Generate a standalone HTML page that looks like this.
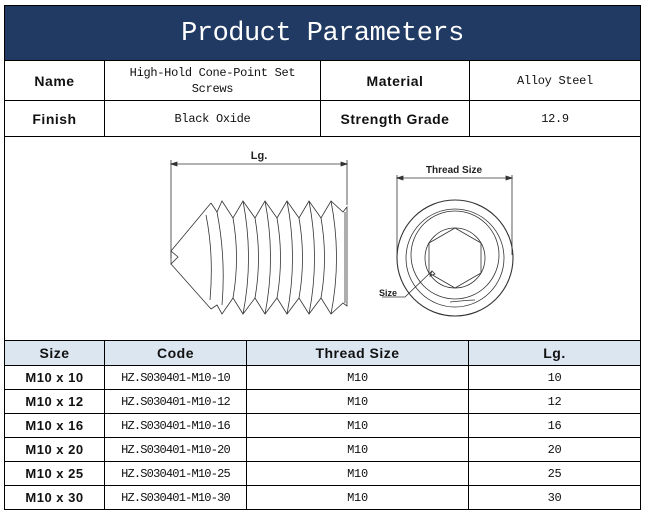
<!DOCTYPE html>
<html><head><meta charset="utf-8"><style>
body{margin:0;background:#fff;width:647px;height:514px;position:relative;overflow:hidden;font-family:"Liberation Mono","Noto Sans CJK SC",monospace;}
.a{position:absolute;box-sizing:border-box;}
table{border-collapse:collapse;position:absolute;left:4px;}
td{border:1px solid #000;text-align:center;padding:0;font-size:12px;color:#111;letter-spacing:-0.3px;}
.b{font-family:"Liberation Sans",sans-serif;font-weight:bold;font-size:14px;letter-spacing:0.5px;}
</style></head><body>
<div class="a" style="left:4px;top:5px;width:637px;height:56px;background:#213A63;border:1px solid #000;color:#fff;font-family:'Liberation Mono',monospace;font-size:27px;text-align:center;line-height:56px;letter-spacing:-0.5px;">Product Parameters</div>
<table style="top:60px;width:637px;">
<tr style="height:40px"><td class="b" style="width:99px">Name</td><td style="width:215px;line-height:16px">High-Hold Cone-Point Set<br>Screws</td><td class="b" style="width:148px">Material</td><td>Alloy Steel</td></tr>
<tr style="height:36px"><td class="b">Finish</td><td>Black Oxide</td><td class="b">Strength Grade</td><td>12.9</td></tr>
</table>
<div class="a" style="left:4px;top:136px;width:637px;height:205px;border:1px solid #000;border-top:none;"></div>
<svg class="a" style="left:0;top:0" width="647" height="514" fill="none" stroke="#333" stroke-width="0.8">
<line x1="171" y1="160" x2="171" y2="258"/><line x1="347" y1="160" x2="347" y2="205"/>
<line x1="171" y1="164" x2="347" y2="164"/>
<path d="M171 164l6-2v4zM347 164l-6-2v4z" fill="#333"/>
<text x="259" y="159" font-family="Liberation Sans" font-weight="bold" font-size="11" fill="#222" stroke="none" text-anchor="middle">Lg.</text>
<path d="M171 251 L211 203 M171 264 L211 309 M171 251 L178 257 L171 264 Z"/>
<path d="M211 203 L217 212 L222 201 L233 218 L243 201 L255 218 L265 201 L277 218 L287 201 L299 218 L309 201 L321 218 L331 201 L343 212 L347 207 L347 306 L343 303 L331 314 L321 298 L309 314 L299 298 L287 314 L277 298 L265 314 L255 298 L243 314 L233 298 L222 314 L217 305 L211 309"/>
<path d="M206 215 Q214 255 210 300 M217 212 Q226 258 222 305 M233 218 Q240 258 233 298 M243 201 Q254 258 243 314 M255 218 Q262 258 255 298 M265 201 Q276 258 265 314 M277 218 Q284 258 277 298 M287 201 Q298 258 287 314 M299 218 Q306 258 299 298 M309 201 Q320 258 309 314 M321 218 Q328 258 321 298 M331 201 Q342 258 331 314 M345 212 L345 303"/>
<line x1="397" y1="175" x2="397" y2="255"/><line x1="512" y1="175" x2="512" y2="255"/>
<line x1="397" y1="178" x2="512" y2="178"/>
<path d="M397 178l6-2v4zM512 178l-6-2v4z" fill="#333"/>
<text x="454" y="173" font-family="Liberation Sans" font-weight="bold" font-size="10" fill="#222" stroke="none" text-anchor="middle">Thread Size</text>
<circle cx="455" cy="258" r="58" stroke-width="1.1"/>
<circle cx="455" cy="258" r="49"/><circle cx="455" cy="255" r="44"/>
<circle cx="455" cy="258" r="30"/>
<polygon points="455,228 481,243 481,273 455,288 429,273 429,243"/>
<path d="M432 271 L405 297 L382 297 M432 271 l-2 5 l5 -2z"/>
<path d="M450 302 Q470 300 475 300"/>
<text x="379" y="296" font-family="Liberation Sans" font-weight="bold" font-size="9" fill="#222" stroke="none">Size</text>
</svg>
<table style="top:340px;width:637px;">
<tr style="height:25px;background:#DCE6F1"><td class="b" style="width:99px">Size</td><td class="b" style="width:141px">Code</td><td class="b" style="width:221px">Thread Size</td><td class="b">Lg.</td></tr>
<tr style="height:24px"><td class="b" style="font-size:13px">M10 x 10</td><td style="letter-spacing:-0.8px">HZ.S030401-M10-10</td><td>M10</td><td>10</td></tr>
<tr style="height:24px"><td class="b" style="font-size:13px">M10 x 12</td><td style="letter-spacing:-0.8px">HZ.S030401-M10-12</td><td>M10</td><td>12</td></tr>
<tr style="height:24px"><td class="b" style="font-size:13px">M10 x 16</td><td style="letter-spacing:-0.8px">HZ.S030401-M10-16</td><td>M10</td><td>16</td></tr>
<tr style="height:24px"><td class="b" style="font-size:13px">M10 x 20</td><td style="letter-spacing:-0.8px">HZ.S030401-M10-20</td><td>M10</td><td>20</td></tr>
<tr style="height:24px"><td class="b" style="font-size:13px">M10 x 25</td><td style="letter-spacing:-0.8px">HZ.S030401-M10-25</td><td>M10</td><td>25</td></tr>
<tr style="height:24px"><td class="b" style="font-size:13px">M10 x 30</td><td style="letter-spacing:-0.8px">HZ.S030401-M10-30</td><td>M10</td><td>30</td></tr>
</table>
</body></html>
